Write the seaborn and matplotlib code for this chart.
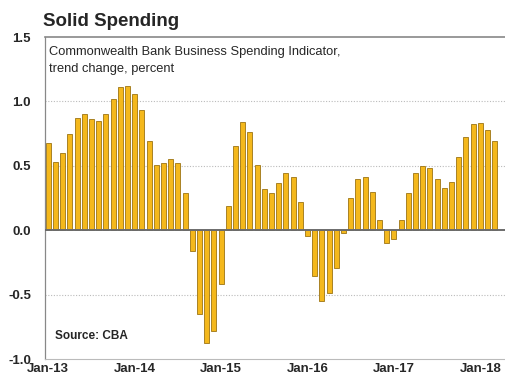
import numpy as np
import pandas as pd
import matplotlib
matplotlib.use("Agg")
import matplotlib.pyplot as plt
import seaborn as sns

months = pd.date_range("2013-01-01", "2018-03-01", freq="MS")
month_labels = [d.strftime("%b-%y") for d in months]
values = [0.68, 0.53, 0.60, 0.75, 0.87, 0.90, 0.86, 0.85, 0.90, 1.02, 1.11, 1.12,
          1.06, 0.93, 0.69, 0.51, 0.52, 0.55, 0.52, 0.29, -0.165, -0.65, -0.876, -0.786,
          -0.42, 0.19, 0.655, 0.84, 0.765, 0.51, 0.32, 0.29, 0.37, 0.445, 0.41, 0.22,
          -0.046, -0.355, -0.55, -0.485, -0.29, -0.023, 0.25, 0.40, 0.41, 0.30, 0.08, -0.10,
          -0.07, 0.08, 0.29, 0.445, 0.50, 0.485, 0.40, 0.33, 0.376, 0.567, 0.727, 0.827,
          0.835, 0.776, 0.693]
yticks = [-1.0, -0.5, 0.0, 0.5, 1.0, 1.5]
xtick_labels = ["Jan-13", "Jan-14", "Jan-15", "Jan-16", "Jan-17", "Jan-18"]

df = pd.DataFrame({"month": month_labels, "value": values})

sns.set_style("white")
plt.rcParams["font.family"] = ["Liberation Sans", "DejaVu Sans"]

fig = plt.figure(figsize=(5.06, 3.79), dpi=100)
ax = fig.add_axes([45/506, 1-359/379, 460/506, (359-37)/379])

for y in [1.0, 0.5, -0.5]:
    ax.axhline(y, color="#bbbbbb", lw=0.8, ls=(0, (1, 1.5)), zorder=0)

sns.barplot(data=df, x="month", y="value", color="#F4B81C", width=0.7,
            edgecolor="#9c7412", linewidth=0.6, saturation=1, ax=ax, zorder=2)

ax.axhline(0, color="#6b6b6b", lw=1.4, zorder=3)

ax.set_xlim(-0.46, 63.43)
ax.set_ylim(-1.0, 1.5)
ax.set_yticks(yticks)
ax.set_yticklabels([f"{v:.1f}" for v in yticks], fontsize=9.5, fontweight="bold")
ax.tick_params(axis="y", length=6, color="#cccccc", width=0.8, pad=4)

ax.set_xticks(range(len(values)), minor=True)
ax.set_xticks([month_labels.index(l) for l in xtick_labels])
ax.set_xticklabels(xtick_labels, fontsize=9.5, fontweight="bold")
ax.tick_params(axis="x", which="both", direction="in", length=3, color="#999999",
               width=0.7, pad=3)
ax.set_xlabel("")
ax.set_ylabel("")

for s in ["right"]:
    ax.spines[s].set_visible(False)
ax.spines["left"].set_color("#888888")
ax.spines["left"].set_linewidth(0.9)
ax.spines["top"].set_color("#888888")
ax.spines["top"].set_linewidth(1.2)
ax.spines["bottom"].set_color("#bbbbbb")
ax.spines["bottom"].set_linewidth(0.8)

fig.text(43/506, 1-21/379, "Solid Spending", fontsize=13.5, fontweight="bold",
         va="center", ha="left")
fig.text(49/506, 1-52/379, "Commonwealth Bank Business Spending Indicator,",
         fontsize=9.3, va="center", ha="left")
fig.text(49/506, 1-69/379, "trend change, percent", fontsize=9.3, va="center", ha="left")
fig.text(55/506, 1-336/379, "Source: CBA", fontsize=8.5, fontweight="bold",
         va="center", ha="left")

fig.savefig("out.png", dpi=100)
